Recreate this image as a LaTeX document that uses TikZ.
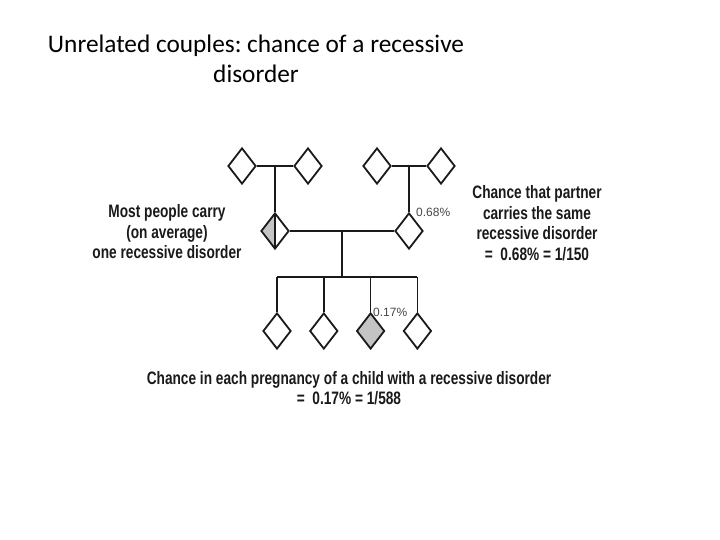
\documentclass[tikz,border=0pt]{standalone}
\usepackage{fontspec}
\setmainfont{Carlito}
\newfontfamily\lblfont[FakeStretch=0.76]{Liberation Sans}
\newfontfamily\pctfont{Liberation Sans}
\usepackage{tikz}
\usetikzlibrary{shapes.geometric,positioning,calc}
\definecolor{lineBlack}{HTML}{1A1A1A}
\definecolor{carrierGray}{HTML}{C4C4C4}
\frenchspacing

\begin{document}
\begin{tikzpicture}[
      x=1pt, y=-1pt,
      node distance=17pt,
      person/.style={
        diamond, draw=lineBlack, line width=1.8pt, fill=white,
        inner sep=0pt, minimum width=28pt, minimum height=36pt
      },
      carrier/.style={person, path picture={
        \fill[carrierGray] (path picture bounding box.south west) rectangle (path picture bounding box.north);
        \draw[lineBlack, line width=1.8pt] (path picture bounding box.south) -- (path picture bounding box.north);}},
      affected/.style={person, fill=carrierGray},
      note/.style={align=center, text=lineBlack, inner sep=0pt,
        font=\lblfont\bfseries\fontsize{18pt}{20.5pt}\selectfont},
      pct/.style={text=lineBlack!80, inner sep=0pt, font=\pctfont\fontsize{12pt}{14pt}\selectfont},
      link/.style={draw=lineBlack, line width=2pt},
      sibline/.style={draw=lineBlack, line width=1.6pt}
    ]
      \useasboundingbox[fill=white] (0,0) rectangle (720,540);

      \node[align=center, font=\fontsize{25.3pt}{30pt}\selectfont] (title) at (256,59)
        {Unrelated couples: chance of a recessive\\disorder};

      % grandparents
      \node[person] (gpL1) at (242,166) {};
      \node[person] (gpL2) at (308,166) {};
      \node[person] (gpR1) at (377,166) {};
      \node[person] (gpR2) at (441,166) {};
      \coordinate (mumL) at ($(gpL1)!.5!(gpL2)$);
      \coordinate (mumR) at ($(gpR1)!.5!(gpR2)$);

      % couple
      \node[carrier] (ego) at (mumL |- 0,231) {};
      \node[person] (partner) at (mumR |- 0,231) {};
      \coordinate (kin) at ($(ego)!.5!(partner)$);
      \coordinate (sib) at (kin |- 0,277);

      % children
      \node[person] (c1) at (277,331) {};
      \node[person, right=of c1] (c2) {};
      \node[affected, right=of c2] (c3) {};
      \node[person, right=of c3] (c4) {};

      \draw[link] (gpL1) -- (gpL2);
      \draw[link] (gpR1) -- (gpR2);
      \draw[link] (mumL) -- (ego);
      \draw[link] (mumR) -- (partner);
      \draw[link] (ego) -- (partner);
      \draw[link] (kin) -- (sib);
      \draw[sibline] (c1 |- sib) -- (c4 |- sib);
      \foreach \k in {c1,c2,c3,c4}
        \draw[sibline] (\k |- sib) -- (\k.north);

      \node[pct, anchor=west] (pctPartner) at (416,212) {0.68\%};
      \node[pct, anchor=west] (pctChild) at (373,312) {0.17\%};

      \node[note] (noteCarry) at (167,232) {Most people carry\\(on average)\\one recessive disorder};
      \node[note] (notePartner) at (537,223) {Chance that partner\\carries the same\\recessive disorder\\=\ \ 0.68\% = 1/150};
      \node[note] (noteChild) at (349,388) {Chance in each pregnancy of a child with a recessive disorder\\=\ \ 0.17\% = 1/588};
    \end{tikzpicture}
\end{document}
